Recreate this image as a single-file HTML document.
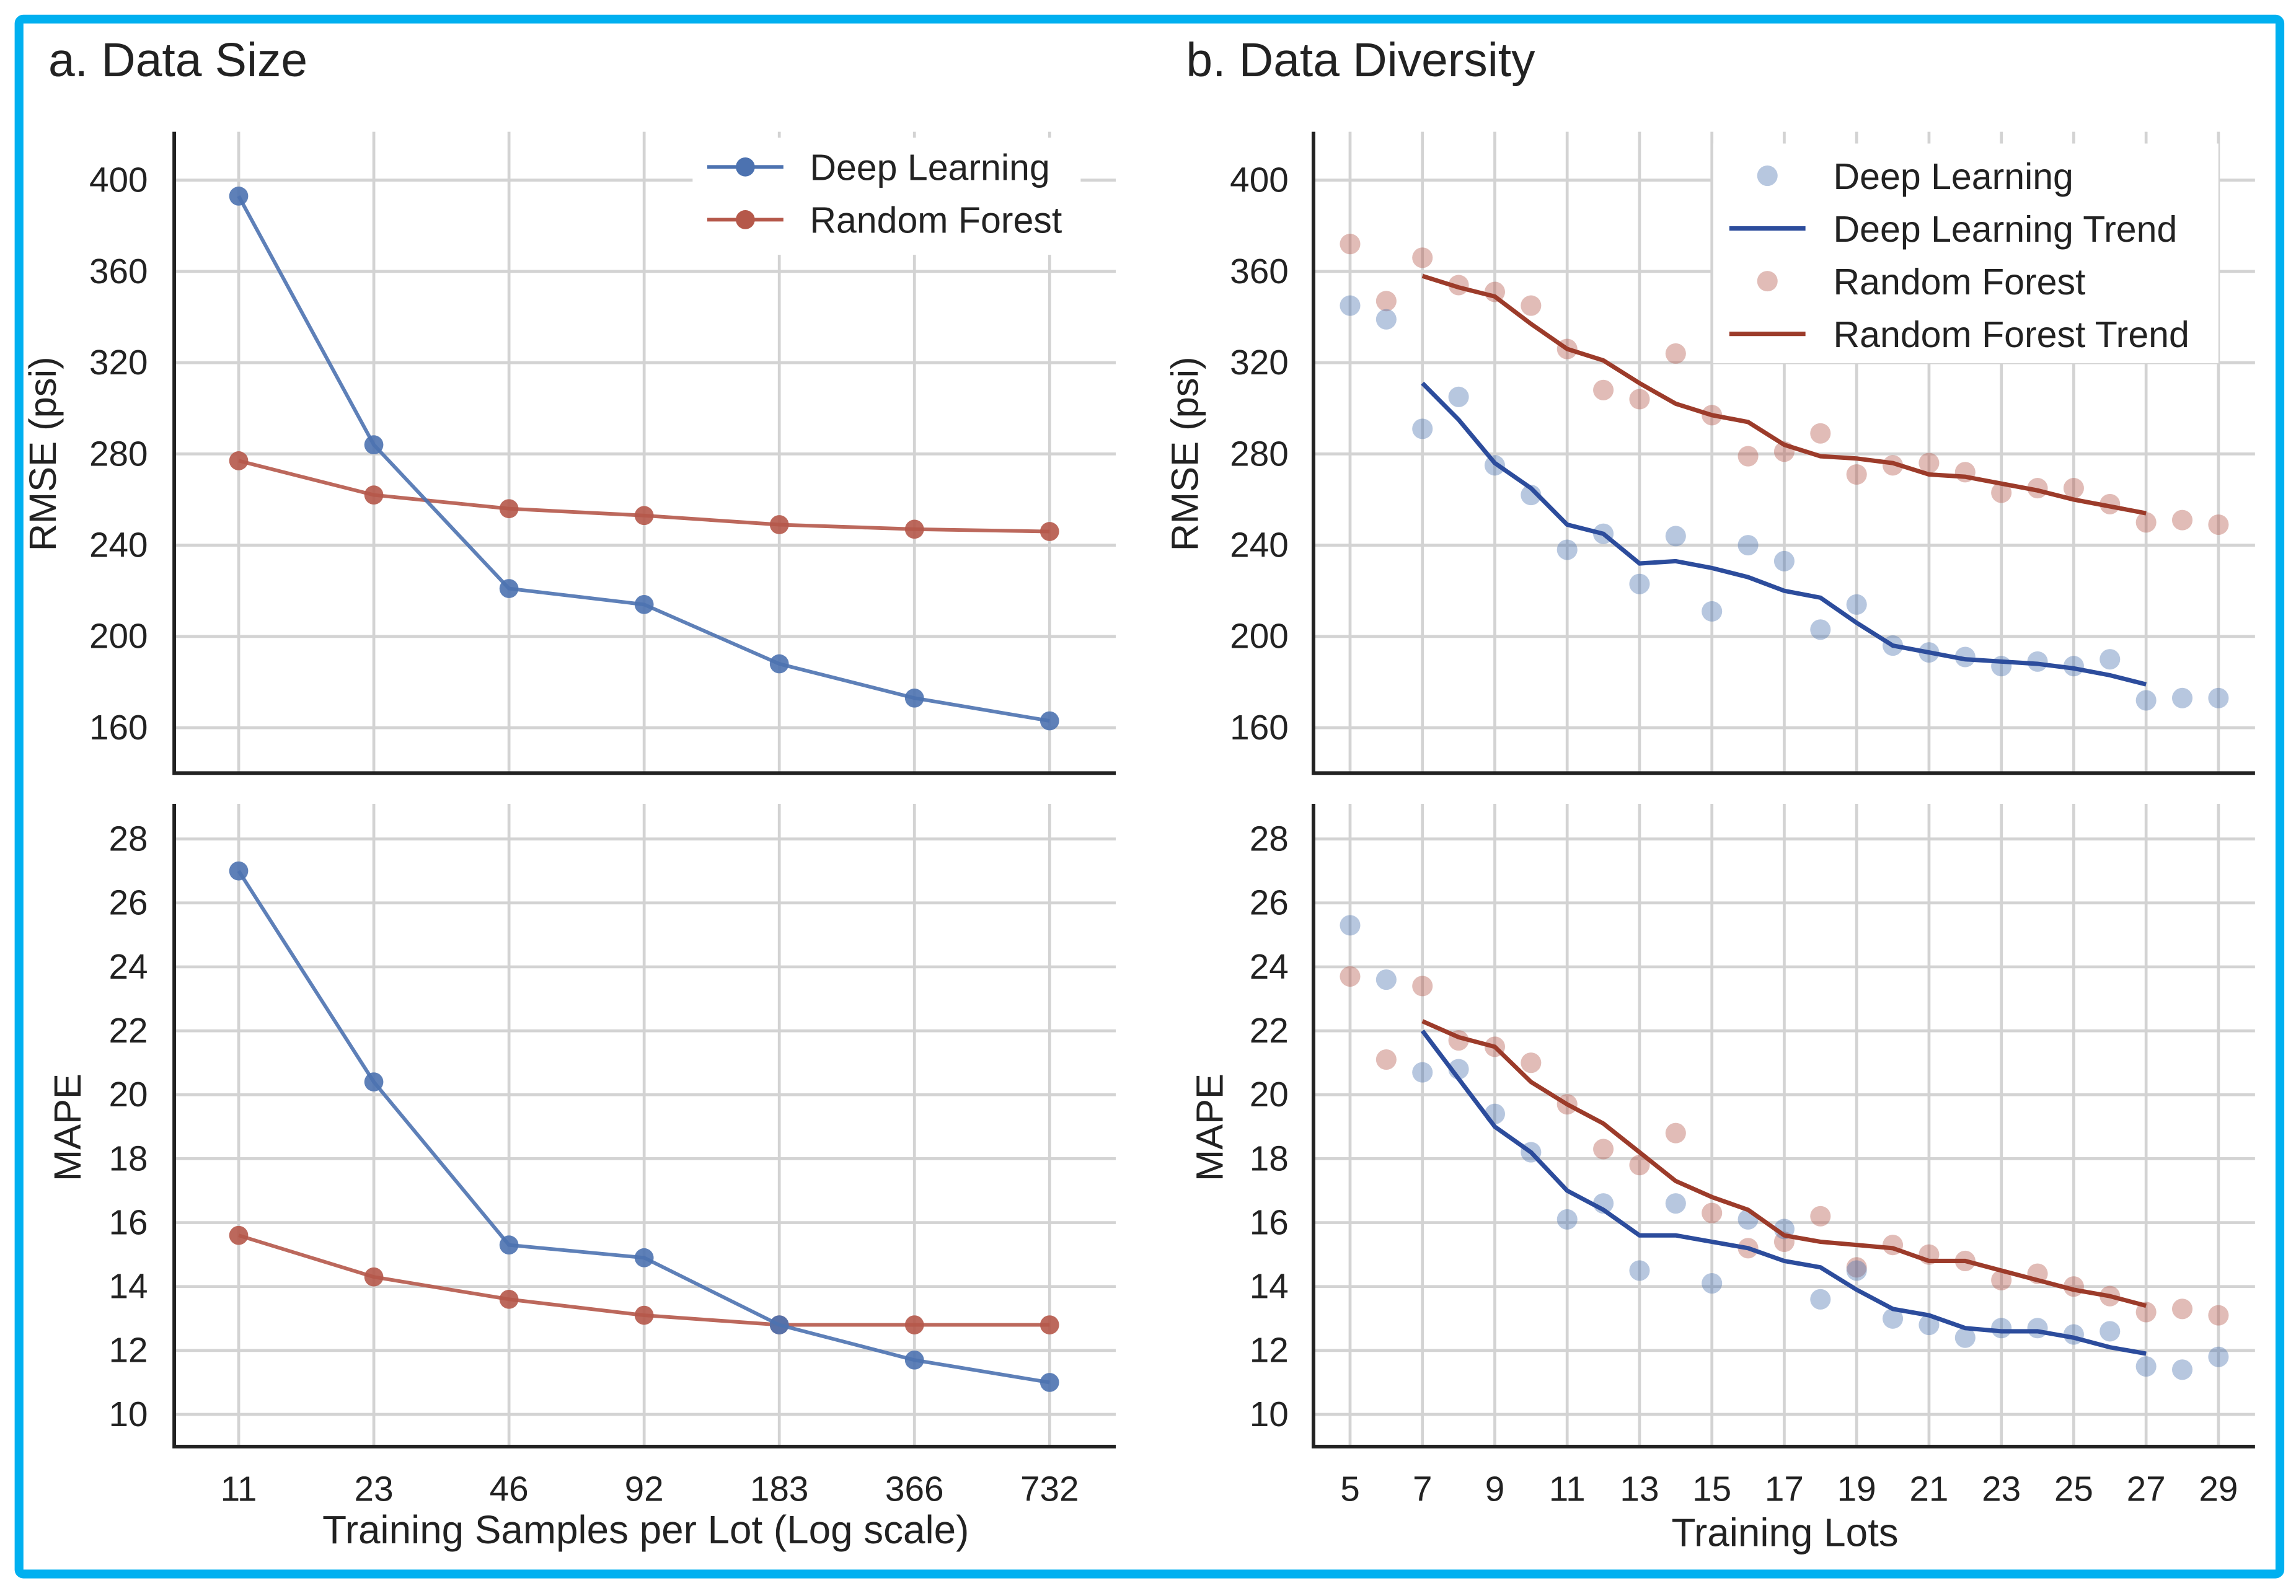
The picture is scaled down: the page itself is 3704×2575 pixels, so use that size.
<!DOCTYPE html>
<html><head><meta charset="utf-8"><style>
html,body{margin:0;padding:0;background:#fff}
svg{display:block}
text{font-family:"Liberation Sans",sans-serif;fill:#222}
</style></head><body>
<svg id="chart" width="3704" height="2575" viewBox="0 0 1568 1090" xmlns="http://www.w3.org/2000/svg">
<rect x="0" y="0" width="1568" height="1090" fill="#fff"/>
<rect x="13" y="13" width="1544" height="1062" fill="none" stroke="#00b0f0" stroke-width="6" rx="3"/>
<text x="33" y="52" font-size="32.5">a. Data Size</text>
<text x="810" y="52" font-size="32.5">b. Data Diversity</text>
<g id="g"></g>
</svg>
<script>
const xCatsA=[11,23,46,92,183,366,732];
const rmseDLa=[393,284,221,214,188,173,163];
const rmseRFa=[277,262,256,253,249,247,246];
const mapeDLa=[27.0,20.4,15.3,14.9,12.8,11.7,11.0];
const mapeRFa=[15.6,14.3,13.6,13.1,12.8,12.8,12.8];
const lotsB=[5,6,7,8,9,10,11,12,13,14,15,16,17,18,19,20,21,22,23,24,25,26,27,28,29];
const trendLots=[7,8,9,10,11,12,13,14,15,16,17,18,19,20,21,22,23,24,25,26,27];
const rmseDLpts=[345,339,291,305,275,262,238,245,223,244,211,240,233,203,214,196,193,191,187,189,187,190,172,173,173];
const rmseRFpts=[372,347,366,354,351,345,326,308,304,324,297,279,281,289,271,275,276,272,263,265,265,258,250,251,249];
const rmseDLtrend=[311,295,276,265,249,245,232,233,230,226,220,217,206,196,193,190,189,188,186,183,179];
const rmseRFtrend=[358,353,349,337,326,321,311,302,297,294,284,279,278,276,271,270,267,264,260,257,254];
const mapeDLpts=[25.3,23.6,20.7,20.8,19.4,18.2,16.1,16.6,14.5,16.6,14.1,16.1,15.8,13.6,14.5,13.0,12.8,12.4,12.7,12.7,12.5,12.6,11.5,11.4,11.8];
const mapeRFpts=[23.7,21.1,23.4,21.7,21.5,21.0,19.7,18.3,17.8,18.8,16.3,15.2,15.4,16.2,14.6,15.3,15.0,14.8,14.2,14.4,14.0,13.7,13.2,13.3,13.1];
const mapeDLtrend=[22.0,20.5,19.0,18.2,17.0,16.4,15.6,15.6,15.4,15.2,14.8,14.6,13.9,13.3,13.1,12.7,12.6,12.6,12.4,12.1,11.9];
const mapeRFtrend=[22.3,21.8,21.5,20.4,19.7,19.1,18.2,17.3,16.8,16.4,15.6,15.4,15.3,15.2,14.8,14.8,14.5,14.2,13.9,13.7,13.4];
const rmseTicks=[160,200,240,280,320,360,400];
const mapeTicks=[10,12,14,16,18,20,22,24,26,28];
const xTicksB=[5,7,9,11,13,15,17,19,21,23,25,27,29];

const NS="http://www.w3.org/2000/svg";
const G=document.getElementById('g');
function el(tag,attrs,parent){const e=document.createElementNS(NS,tag);for(const k in attrs)e.setAttribute(k,attrs[k]);(parent||G).appendChild(e);return e;}
const C={dl:"#4c72b0",rf:"#b5584a",dlT:"#2c4c9c",rfT:"#9c3b2a"};
const yR=v=>497-(v-160)*(374/240);
const yM=v=>966-(v-10)*(393/18);
const xA=i=>163+i*92.3;
const xB=l=>922+(l-5)*24.71;
const rows=[{top:90,bot:528,y:yR,ticks:rmseTicks,label:"RMSE (psi)",ly:310},{top:549,bot:988,y:yM,ticks:mapeTicks,label:"MAPE",ly:770}];
const cols=[{l:119,r:762,tl:101,lab:38},{l:897,r:1540,tl:880,lab:818}];

function frame(c,rw,xs,xlabels,name){
  const g=el('g',{});
  
  
  rw.ticks.forEach(t=>{
    const l=el('line',{x1:c.l,x2:c.r,y1:rw.y(t),y2:rw.y(t),stroke:"#d3d3d3","stroke-width":2},g);
    
    
    const tx=el('text',{x:c.tl,y:rw.y(t)+8,"font-size":24,"text-anchor":"end"},g);
    tx.textContent=t;
    
    
  });
  xs.forEach(x=>{
    const l=el('line',{x1:x,x2:x,y1:rw.top,y2:rw.bot,stroke:"#d3d3d3","stroke-width":2},g);
    
    
  });
  const ax=el('path',{d:`M${c.l},${rw.top} L${c.l},${rw.bot} L${c.r},${rw.bot}`,fill:"none",stroke:"#222","stroke-width":2.5},g);
  
  
  const yl=el('text',{transform:`translate(${c.lab+(rw.label==="MAPE"?17:0)},${rw.ly}) rotate(-90)`,"font-size":26,"text-anchor":"middle"},g);
  yl.textContent=rw.label;
  
  
  if(xlabels){xs.forEach((x,i)=>{
    const t=el('text',{x:x,y:1025,"font-size":24,"text-anchor":"middle"},g);
    t.textContent=xlabels[i];
    
    
  });}
}
const xsA=xCatsA.map((_,i)=>xA(i));
const xsB=xTicksB.map(xB);
frame(cols[0],rows[0],xsA,null,'panel-a-rmse');
frame(cols[0],rows[1],xsA,xCatsA,'panel-a-mape');
frame(cols[1],rows[0],xsB,null,'panel-b-rmse');
frame(cols[1],rows[1],xsB,xTicksB,'panel-b-mape');
let t=el('text',{x:441,y:1054,"font-size":27,"text-anchor":"middle"});
t.textContent="Training Samples per Lot (Log scale)";


t=el('text',{x:1219,y:1056,"font-size":27,"text-anchor":"middle"});
t.textContent="Training Lots";



function lineMarkers(vals,yf,color,name){
  const pts=vals.map((v,i)=>[xA(i),yf(v)]);
  const p=el('polyline',{points:pts.map(p=>p.join(',')).join(' '),fill:"none",stroke:color,"stroke-width":2.5,opacity:0.9});
  
  
  pts.forEach(q=>{
    const c=el('circle',{cx:q[0],cy:q[1],r:6.5,fill:color,opacity:0.9});
    
    
  });
}
lineMarkers(rmseRFa,yR,C.rf,'rmse-rf-a');
lineMarkers(rmseDLa,yR,C.dl,'rmse-dl-a');
lineMarkers(mapeRFa,yM,C.rf,'mape-rf-a');
lineMarkers(mapeDLa,yM,C.dl,'mape-dl-a');

function scatter(vals,yf,color,name){
  vals.forEach((v,i)=>{
    const c=el('circle',{cx:xB(lotsB[i]),cy:yf(v),r:7,fill:color,opacity:0.4});
    
    
  });
}
function trend(vals,yf,color,name){
  const p=el('polyline',{points:vals.map((v,i)=>xB(trendLots[i])+','+yf(v)).join(' '),fill:"none",stroke:color,"stroke-width":3});
  
  
}
scatter(rmseRFpts,yR,C.rf,'rmse-rf-point');
scatter(rmseDLpts,yR,C.dl,'rmse-dl-point');
trend(rmseRFtrend,yR,C.rfT,'rmse-rf-trend');
trend(rmseDLtrend,yR,C.dlT,'rmse-dl-trend');
scatter(mapeRFpts,yM,C.rf,'mape-rf-point');
scatter(mapeDLpts,yM,C.dl,'mape-dl-point');
trend(mapeRFtrend,yM,C.rfT,'mape-rf-trend');
trend(mapeDLtrend,yM,C.dlT,'mape-dl-trend');

let lb=el('rect',{x:473,y:94,width:265,height:80,fill:"#fff"});


[["Deep Learning",C.dl,114],["Random Forest",C.rf,150]].forEach(e=>{
  const g=el('g',{});
  
  
  el('line',{x1:483,x2:535,y1:e[2],y2:e[2],stroke:e[1],"stroke-width":2.5},g);
  el('circle',{cx:509,cy:e[2],r:6.5,fill:e[1]},g);
  const tx=el('text',{x:553,y:e[2]+9,"font-size":25},g);tx.textContent=e[0];
});
lb=el('rect',{x:1170,y:98,width:345,height:150,fill:"#fff"});


[["Deep Learning",C.dl,120,0],["Deep Learning Trend",C.dlT,156,1],["Random Forest",C.rf,192,0],["Random Forest Trend",C.rfT,228,1]].forEach(e=>{
  const g=el('g',{});
  
  
  if(e[3]) el('line',{x1:1181,x2:1233,y1:e[2],y2:e[2],stroke:e[1],"stroke-width":3},g);
  else el('circle',{cx:1207,cy:e[2],r:7,fill:e[1],opacity:0.4},g);
  const tx=el('text',{x:1252,y:e[2]+9,"font-size":25},g);tx.textContent=e[0];
});
</script>
</body></html>
